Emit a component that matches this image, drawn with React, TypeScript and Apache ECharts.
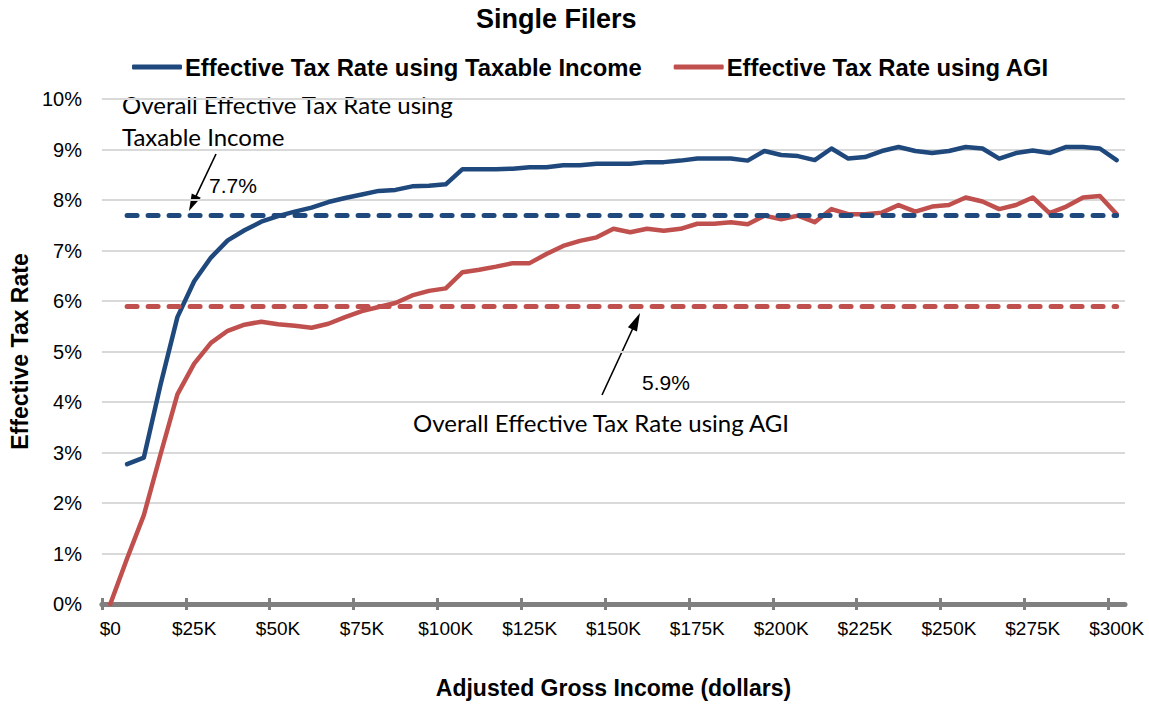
import React, { useEffect, useRef } from 'react';
import * as echarts from 'echarts';

// Income bins ($K), one point per $5K bin
const incomeBinsK = [
  0, 5, 10, 15, 20, 25, 30, 35, 40, 45, 50, 55, 60, 65, 70, 75, 80, 85, 90, 95,
  100, 105, 110, 115, 120, 125, 130, 135, 140, 145, 150, 155, 160, 165, 170, 175,
  180, 185, 190, 195, 200, 205, 210, 215, 220, 225, 230, 235, 240, 245, 250, 255,
  260, 265, 270, 275, 280, 285, 290, 295, 300,
];
const binWidthK = 5;

// Tick marks on the income axis ($K)
const incomeTicksK = [0, 25, 50, 75, 100, 125, 150, 175, 200, 225, 250, 275, 300];

// Effective tax rate (%) using taxable income
const rateTaxable = [
  null, 2.77, 2.9, 4.35, 5.68, 6.39, 6.86, 7.2, 7.4, 7.57, 7.68, 7.77, 7.85, 7.96, 8.04,
  8.11, 8.18, 8.2, 8.27, 8.28, 8.31, 8.61, 8.61, 8.61, 8.62, 8.65, 8.65, 8.69, 8.69, 8.72,
  8.72, 8.72, 8.75, 8.75, 8.78, 8.82, 8.82, 8.82, 8.78, 8.97, 8.89, 8.87, 8.79, 9.02, 8.82,
  8.85, 8.97, 9.05, 8.97, 8.93, 8.97, 9.05, 9.02, 8.82, 8.93, 8.98, 8.93, 9.05, 9.05, 9.02,
  8.79,
];

// Effective tax rate (%) using AGI
const rateAgi = [
  0, 0.9, 1.76, 2.97, 4.15, 4.76, 5.17, 5.41, 5.53, 5.59, 5.54, 5.51, 5.47, 5.55, 5.68,
  5.8, 5.88, 5.96, 6.11, 6.2, 6.25, 6.57, 6.62, 6.68, 6.75, 6.75, 6.93, 7.09, 7.19, 7.26,
  7.43, 7.36, 7.43, 7.39, 7.43, 7.53, 7.53, 7.56, 7.52, 7.69, 7.62, 7.69, 7.56, 7.82, 7.72,
  7.72, 7.75, 7.9, 7.77, 7.87, 7.9, 8.05, 7.97, 7.82, 7.9, 8.05, 7.74, 7.87, 8.05, 8.08,
  7.72,
];

const overallTaxable = 7.7;
const overallAgi = 5.9;
const overallLineStartK = 5;
const overallLineEndK = 300;

const seriesNames = ['Effective Tax Rate using Taxable Income', 'Effective Tax Rate using AGI'];

const fmtIncome = (k: number) => (k === 0 ? '$0' : `$${k}K`);

function arrow(x1: number, y1: number, x2: number, y2: number, headLen: number, headHalf: number) {
  const dx = x2 - x1;
  const dy = y2 - y1;
  const len = Math.sqrt(dx * dx + dy * dy);
  const ux = dx / len;
  const uy = dy / len;
  const bx = x2 - ux * headLen;
  const by = y2 - uy * headLen;
  const nx = -uy;
  const ny = ux;
  return [
    {
      type: 'line',
      shape: { x1, y1, x2: bx + ux * 2, y2: by + uy * 2 },
      style: { stroke: '#000', lineWidth: 1.6 },
      silent: true,
    },
    {
      type: 'polygon',
      shape: {
        points: [
          [x2, y2],
          [bx + nx * headHalf, by + ny * headHalf],
          [bx - nx * headHalf, by - ny * headHalf],
        ],
      },
      style: { fill: '#000' },
      silent: true,
    },
  ];
}

export default function App() {
  const ref = useRef<HTMLDivElement>(null);

  useEffect(() => {
    if (!ref.current) return;
    const chart = echarts.init(ref.current, null, { renderer: 'svg' });
    const cats = incomeBinsK.map(fmtIncome);
    const font = '"Liberation Sans", Arial, sans-serif';
    const noteFont = 'Lato, "Open Sans", sans-serif';
    const blue = '#1F497D';
    const red = '#C0504D';
    const axisGray = '#808080';

    chart.setOption({
      animation: false,
      backgroundColor: '#ffffff',
      title: {
        text: 'Single Filers',
        left: 476,
        top: 5,
        padding: 0,
        textStyle: { fontFamily: font, fontSize: 27, fontWeight: 'bold', color: '#000' },
      },
      legend: {
        data: seriesNames,
        left: 132,
        top: 55,
        padding: 0,
        icon: 'roundRect',
        itemWidth: 50,
        itemHeight: 5,
        itemGap: 32,
        textStyle: { fontFamily: font, fontSize: 23.8, fontWeight: 'bold', color: '#000', padding: [0, 0, 0, -2] },
      },
      grid: { left: 101, right: 24, top: 99, bottom: 98 },
      xAxis: [
        {
          type: 'category',
          data: cats,
          boundaryGap: true,
          position: 'bottom',
          axisLine: { show: true, lineStyle: { color: axisGray, width: 5 } },
          axisTick: { show: false },
          axisLabel: { show: true, interval: 4, margin: 15, fontFamily: font, fontSize: 19, color: '#000' },
          splitLine: { show: false },
          name: 'Adjusted Gross Income (dollars)',
          nameLocation: 'middle',
          nameGap: 72,
          nameTextStyle: { fontFamily: font, fontSize: 23, fontWeight: 'bold', color: '#000' },
        },
        {
          // tick marks at the bin boundaries, crossing the axis line
          type: 'value',
          min: incomeBinsK[0],
          max: incomeBinsK[incomeBinsK.length - 1] + binWidthK,
          position: 'bottom',
          offset: -6,
          axisLine: { show: false },
          axisTick: { show: true, customValues: incomeTicksK, length: 12, lineStyle: { color: axisGray, width: 3 } },
          axisLabel: { show: false },
          splitLine: { show: false },
        },
      ],
      yAxis: {
        type: 'value',
        min: 0,
        max: 10,
        interval: 1,
        axisLine: { show: false },
        axisTick: { show: false },
        axisLabel: { formatter: '{value}%', margin: 20, fontFamily: font, fontSize: 20, color: '#000' },
        splitLine: { show: true, lineStyle: { color: '#D9D9D9', width: 2 } },
        name: 'Effective Tax Rate',
        nameLocation: 'middle',
        nameGap: 69,
        nameTextStyle: { fontFamily: font, fontSize: 23, fontWeight: 'bold', color: '#000' },
      },
      series: [
        {
          name: seriesNames[0],
          type: 'line',
          data: rateTaxable,
          symbol: 'none',
          z: 3,
          lineStyle: { color: blue, width: 4.5, cap: 'round', join: 'round' },
          itemStyle: { color: blue },
          markLine: {
            silent: true,
            symbol: 'none',
            label: { show: false },
            lineStyle: { color: blue, width: 5, type: [10, 11], cap: 'round' },
            data: [[
              { coord: [fmtIncome(overallLineStartK), overallTaxable] },
              { coord: [fmtIncome(overallLineEndK), overallTaxable] },
            ]],
          },
        },
        {
          name: seriesNames[1],
          type: 'line',
          data: rateAgi,
          symbol: 'none',
          z: 2,
          lineStyle: { color: red, width: 4.5, cap: 'round', join: 'round' },
          itemStyle: { color: red },
          markLine: {
            silent: true,
            symbol: 'none',
            label: { show: false },
            lineStyle: { color: red, width: 5, type: [10, 11], cap: 'round' },
            data: [[
              { coord: [fmtIncome(overallLineStartK), overallAgi] },
              { coord: [fmtIncome(overallLineEndK), overallAgi] },
            ]],
          },
        },
      ],
      graphic: [
        {
          type: 'text',
          left: 122,
          top: 92,
          style: { text: 'Overall Effective Tax Rate using', fontFamily: noteFont, fontSize: 24, fill: '#000' },
          silent: true,
        },
        {
          type: 'text',
          left: 122,
          top: 124,
          style: { text: 'Taxable Income', fontFamily: noteFont, fontSize: 24, fill: '#000' },
          silent: true,
        },
        {
          type: 'text',
          left: 209,
          top: 175,
          style: { text: `${overallTaxable}%`, fontFamily: font, fontSize: 21, fill: '#000' },
          silent: true,
        },
        ...arrow(216, 154, 189, 211, 17, 5),
        {
          type: 'text',
          left: 642,
          top: 372,
          style: { text: `${overallAgi}%`, fontFamily: font, fontSize: 21, fill: '#000' },
          silent: true,
        },
        ...arrow(602, 395, 640, 313, 18, 5),
        {
          type: 'text',
          left: 413,
          top: 410,
          style: { text: 'Overall Effective Tax Rate using AGI', fontFamily: noteFont, fontSize: 24, fill: '#000' },
          silent: true,
        },
      ],
    });

    return () => chart.dispose();
  }, []);

  return (
    <div
      ref={ref}
      style={{ position: 'fixed', left: 0, top: 0, width: 1149, height: 704, background: '#fff' }}
    />
  );
}
